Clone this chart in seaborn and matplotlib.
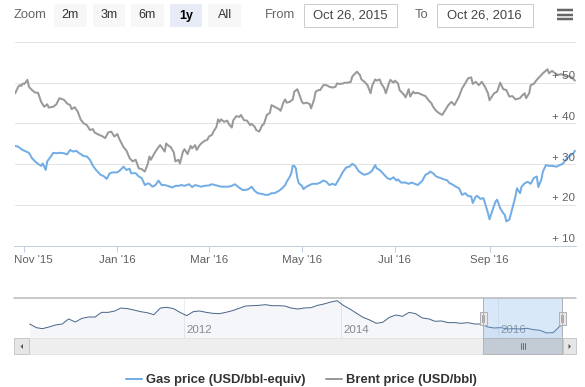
import matplotlib

matplotlib.use("Agg")

import matplotlib.dates as mdates
import matplotlib.pyplot as plt
import matplotlib.transforms as mtransforms
import seaborn as sns
from matplotlib.lines import Line2D
from matplotlib.patches import Polygon, Rectangle

import numpy as np
import pandas as pd

# ---------------------------------------------------------------- data
START = pd.Timestamp("2015-10-26")

# days since START
gas_days = [
    0, 2, 4, 6, 9, 11, 13, 15, 17, 18, 20, 21, 23, 25, 27, 29, 32, 34, 36, 38,
    40, 42, 45, 47, 49, 51, 53, 56, 58, 60, 62, 64, 67, 69, 71, 73, 75, 76, 79, 81,
    83, 85, 87, 88, 90, 92, 94, 96, 98, 100, 103, 105, 107, 109, 111, 114, 116, 118, 120, 122,
    124, 127, 129, 131, 133, 135, 138, 140, 142, 144, 146, 149, 151, 153, 155, 157, 159, 162, 164, 166,
    168, 170, 173, 175, 177, 178, 180, 181, 182, 183, 184, 185, 186, 188, 189, 191, 193, 195, 198, 200,
    202, 204, 206, 208, 210, 213, 215, 217, 219, 221, 223, 225, 227, 229, 232, 234, 236, 237, 239, 241,
    244, 246, 248, 250, 251, 253, 256, 258, 260, 262, 264, 267, 269, 271, 272, 274, 276, 279, 281, 283,
    285, 286, 288, 291, 293, 295, 297, 299, 300, 302, 303, 305, 307, 308, 310, 311, 313, 315, 316, 318,
    320, 321, 322, 324, 326, 327, 328, 329, 331, 332, 334, 336, 338, 340, 342, 343, 345, 346, 348, 350,
    352, 355, 357, 359, 361, 363, 366, 367,
]
gas_price = [
    34.5, 34.3, 33.7, 33.3, 32.8, 31.5, 30.7, 30.1, 29.6, 30.2, 28.6, 30.7, 31.7, 32.8, 32.7, 32.8, 32.7, 32.4, 33.5, 33.1,
    33.3, 32.7, 32.0, 31.9, 31.1, 29.6, 28.6, 27.4, 27.1, 26.4, 27.8, 28.0, 28.0, 28.6, 29.4, 28.6, 28.9, 27.8, 27.8, 27.0,
    26.6, 24.9, 25.3, 25.2, 24.5, 24.9, 26.0, 24.9, 24.9, 24.7, 24.3, 24.7, 24.7, 24.9, 24.7, 25.1, 24.4, 24.9, 24.7, 24.5,
    24.7, 24.8, 25.1, 24.9, 24.7, 24.5, 24.5, 24.5, 24.7, 25.1, 24.5, 23.7, 23.7, 23.9, 24.5, 23.5, 22.9, 22.7, 22.5, 22.5,
    22.9, 22.9, 23.5, 24.1, 24.9, 25.7, 26.9, 27.8, 29.6, 29.6, 29.0, 26.6, 25.3, 24.7, 23.9, 24.5, 24.9, 25.2, 25.2, 25.5,
    26.0, 25.7, 24.9, 25.2, 24.9, 26.8, 28.2, 29.2, 29.4, 30.1, 29.6, 28.4, 27.8, 27.4, 27.8, 28.4, 29.8, 29.0, 28.6, 27.8,
    26.6, 26.3, 26.8, 26.0, 26.3, 25.5, 25.5, 25.2, 25.5, 25.2, 24.9, 26.0, 27.4, 27.8, 28.2, 27.8, 27.0, 26.6, 26.3, 26.1,
    25.3, 25.2, 24.7, 24.1, 22.5, 22.9, 22.2, 22.1, 20.5, 22.1, 22.2, 21.5, 21.7, 20.5, 18.0, 16.5, 18.8, 20.9, 21.3, 19.2,
    18.0, 17.6, 16.0, 16.4, 19.2, 20.5, 22.1, 24.1, 22.9, 24.5, 25.3, 25.7, 25.2, 26.6, 27.0, 24.4, 26.3, 28.2, 29.8, 29.6,
    29.6, 29.4, 29.8, 30.1, 31.1, 31.9, 32.7, 33.3,
]

brent_days = [
    0, 1, 2, 3, 4, 5, 6, 8, 9, 11, 13, 15, 17, 19, 21, 22, 25, 27, 29, 32,
    34, 36, 37, 39, 41, 43, 45, 47, 49, 51, 52, 55, 57, 59, 61, 63, 65, 67, 68, 71,
    73, 75, 77, 79, 81, 83, 85, 87, 88, 89, 91, 93, 95, 96, 98, 99, 100, 102, 104, 105,
    107, 108, 110, 111, 113, 115, 116, 118, 119, 121, 122, 124, 126, 127, 129, 130, 132, 133, 134, 135,
    137, 139, 140, 142, 143, 145, 147, 148, 150, 152, 154, 155, 157, 158, 160, 162, 163, 165, 167, 168,
    170, 173, 174, 176, 177, 178, 180, 182, 183, 185, 186, 188, 189, 191, 193, 194, 196, 197, 199, 200,
    202, 204, 206, 208, 210, 211, 213, 215, 216, 218, 220, 221, 224, 226, 227, 229, 231, 233, 234, 236,
    237, 239, 240, 242, 243, 245, 246, 248, 249, 251, 252, 253, 255, 256, 258, 259, 261, 262, 264, 267,
    269, 271, 273, 274, 276, 278, 280, 282, 284, 286, 288, 291, 293, 295, 297, 299, 300, 302, 304, 306,
    308, 310, 311, 314, 316, 318, 320, 322, 324, 326, 328, 331, 332, 334, 335, 337, 338, 340, 342, 343,
    345, 346, 349, 350, 352, 354, 356, 358, 361, 363, 365, 367,
]
brent_price = [
    47.4, 48.2, 49.0, 49.4, 49.2, 49.8, 49.7, 50.7, 49.0, 48.2, 47.6, 47.5, 45.3, 44.1, 44.7, 43.9, 44.1, 44.7, 46.2, 45.8,
    44.9, 44.5, 43.5, 44.0, 42.9, 40.9, 40.0, 39.6, 38.4, 38.6, 37.8, 37.2, 36.9, 36.4, 37.8, 38.0, 36.8, 37.4, 36.4, 34.2,
    33.3, 31.5, 30.7, 31.1, 29.0, 28.8, 28.2, 30.2, 31.9, 31.1, 32.5, 33.7, 34.7, 34.2, 33.1, 35.1, 34.7, 34.2, 32.9, 30.7,
    31.1, 30.2, 33.1, 33.7, 32.5, 34.5, 33.9, 34.7, 33.5, 34.7, 35.1, 35.7, 36.0, 36.8, 37.2, 38.0, 39.2, 41.0, 40.4, 41.0,
    40.4, 40.7, 39.9, 39.0, 40.8, 41.8, 41.6, 42.1, 40.8, 40.7, 39.6, 39.9, 39.2, 38.4, 38.0, 39.6, 39.8, 42.1, 42.6, 44.5,
    44.1, 43.5, 43.1, 45.3, 45.9, 45.1, 45.3, 45.9, 47.8, 48.4, 47.4, 45.3, 44.9, 45.1, 44.8, 43.7, 45.9, 47.8, 48.2, 48.2,
    49.4, 49.4, 49.0, 48.8, 49.0, 49.8, 49.7, 49.8, 50.0, 50.0, 50.2, 51.5, 52.7, 51.9, 50.8, 50.2, 49.4, 47.4, 49.2, 50.8,
    50.5, 50.8, 49.8, 48.6, 47.4, 49.8, 50.7, 50.0, 50.5, 49.8, 48.2, 47.8, 47.0, 46.4, 48.4, 46.6, 47.8, 47.4, 47.5, 47.0,
    46.7, 45.7, 44.9, 44.1, 43.1, 42.5, 42.1, 43.3, 44.5, 45.3, 44.5, 46.6, 48.6, 49.8, 51.1, 51.3, 49.7, 50.2, 49.4, 50.2,
    49.0, 47.4, 45.7, 47.4, 47.8, 50.0, 48.4, 48.2, 46.6, 46.7, 45.9, 46.2, 46.7, 47.4, 46.2, 47.4, 49.4, 49.7, 50.7, 51.1,
    51.9, 52.3, 53.3, 52.3, 52.9, 52.3, 51.9, 52.1, 51.5, 51.6, 51.3, 50.5,
]

# navigator: mid-month gas price Jan 2010 .. Oct 2016, then the last day
nav_months = pd.date_range("2010-01-01", "2016-10-01", freq="MS")
nav_price = [
    33.4, 27.6, 26.0, 28.7, 31.9, 33.4, 41.4, 36.6, 42.4, 44.5, 44.5, 51.9,
    51.9, 54.1, 58.8, 57.8, 55.6, 53.0, 51.4, 48.2, 58.8, 59.9, 57.8, 51.9,
    46.7, 53.0, 54.1, 51.9, 50.4, 49.8, 51.9, 54.6, 58.3, 62.0, 62.5, 63.0,
    64.1, 62.5, 62.5, 62.0, 58.8, 57.2, 58.8, 59.3, 63.0, 65.2, 68.3, 70.4,
    62.5, 56.7, 50.4, 44.0, 39.8, 34.5, 36.1, 44.0, 47.7, 45.6, 51.9, 49.8,
    43.0, 41.4, 37.7, 38.2, 35.6, 35.6, 34.5, 35.6, 33.4, 33.4, 28.7, 27.1,
    27.6, 25.5, 26.0, 25.5, 26.6, 24.5, 23.4, 19.2, 19.7, 29.7,
    31.5,
]

y_ticks = [10, 20, 30, 40, 50, 60]
y_labels = [10, 20, 30, 40, 50]
range_buttons = ["2m", "3m", "6m", "1y", "All"]
range_selected = "1y"
range_from = "Oct 26, 2015"
range_to = "Oct 26, 2016"
series_names = ["Gas price (USD/bbl-equiv)", "Brent price (USD/bbl)"]

GAS = "#72ade5"
BRENT = "#999999"
NAV = "#4a6789"

W, H = 585, 387
PX = 72 / 100  # points per pixel at dpi 100


def fx(px):
    return px / W


def fy(py):
    return 1 - py / H


def box(x0, y0, x1, y1, **kw):
    fig.patches.append(
        Rectangle((fx(x0), fy(y1)), fx(x1) - fx(x0), fy(y0) - fy(y1), transform=fig.transFigure, **kw)
    )


def hline(x0, x1, y, **kw):
    fig.lines.append(Line2D([fx(x0), fx(x1)], [fy(y), fy(y)], transform=fig.transFigure, **kw))


def vline(x, y0, y1, **kw):
    fig.lines.append(Line2D([fx(x), fx(x)], [fy(y0), fy(y1)], transform=fig.transFigure, **kw))


sns.set_style("white")
plt.rcParams["font.family"] = ["Liberation Sans", "DejaVu Sans"]

fig = plt.figure(figsize=(W / 100, H / 100), dpi=100)

gas = pd.DataFrame({"date": START + pd.to_timedelta(gas_days, unit="D"), "price": gas_price})
brent = pd.DataFrame({"date": START + pd.to_timedelta(brent_days, unit="D"), "price": brent_price})
nav_dates = list(nav_months + pd.Timedelta(days=14)) + [START + pd.Timedelta(days=gas_days[-1])]
nav = pd.DataFrame({"date": nav_dates, "price": nav_price})

# ---------------------------------------------------------------- main chart
ax = fig.add_axes([fx(14.5), fy(245.8), fx(576) - fx(14.5), fy(41.9) - fy(245.8)])
sns.lineplot(data=gas, x="date", y="price", ax=ax, color=GAS, lw=2 * PX, label=series_names[0],
             estimator=None, errorbar=None)
sns.lineplot(data=brent, x="date", y="price", ax=ax, color=BRENT, lw=2 * PX, label=series_names[1],
             estimator=None, errorbar=None)
if ax.get_legend() is not None:
    ax.get_legend().remove()

ax.set_xlim(START - pd.Timedelta(hours=11), START + pd.Timedelta(days=367.7))
ax.set_ylim(10, 60)
ax.set(xlabel="", ylabel="")
ax.set_yticks(y_ticks)
ax.yaxis.grid(True, color="#e3e3e3", lw=1 * PX)
ax.tick_params(axis="y", length=0, labelleft=False)
for side in ["top", "left", "right"]:
    ax.spines[side].set_visible(False)
ax.spines["bottom"].set_color("#c0d0e0")
ax.spines["bottom"].set_linewidth(1 * PX)

ax.xaxis.set_major_locator(mdates.MonthLocator(bymonth=[1, 3, 5, 7, 9, 11]))
ax.xaxis.set_major_formatter(mdates.DateFormatter("%b '%y"))
ax.tick_params(axis="x", bottom=True, direction="out", length=6 * PX, width=1 * PX, color="#c0d0e0",
               labelcolor="#606060", labelsize=11.5 * PX, pad=3.2 * PX)

ylab_tr = mtransforms.blended_transform_factory(ax.transAxes, ax.transData) + \
    mtransforms.ScaledTranslation(-1 / 100, 6.6 / 100, fig.dpi_scale_trans)
for v in y_labels:
    ax.text(1.0, v, f"+ {v}", transform=ylab_tr, ha="right", va="center", color="#606060",
            fontsize=11.5 * PX, zorder=5)

# ---------------------------------------------------------------- navigator
ax_nav = fig.add_axes([fx(29.3), fy(338.3), fx(563.3) - fx(29.3), fy(298) - fy(338.3)])
ax_nav.set_axisbelow(True)
nav_lo, nav_hi = 10.7, 74.7
ax_nav.fill_between(nav["date"], nav["price"], nav_lo, color="#4572a7", alpha=0.06, lw=0)
sns.lineplot(data=nav, x="date", y="price", ax=ax_nav, color=NAV, lw=1 * PX, estimator=None, errorbar=None)
ax_nav.set_xlim(pd.Timestamp("2010-01-13"), pd.Timestamp("2016-11-01"))
ax_nav.set_ylim(nav_lo, nav_hi)
ax_nav.set(xlabel="", ylabel="")
ax_nav.set_yticks([])
for side in ax_nav.spines:
    ax_nav.spines[side].set_visible(False)
ax_nav.xaxis.set_major_locator(mdates.YearLocator(2))
ax_nav.xaxis.set_major_formatter(mdates.DateFormatter("%Y"))
ax_nav.xaxis.grid(True, color="#ececec", lw=1 * PX)
ax_nav.tick_params(axis="x", length=0, labelcolor="#8c8c8c", labelsize=11.5 * PX, pad=-13 * PX)

sel0, sel1 = START, START + pd.Timedelta(days=gas_days[-1])
ax_nav.axvspan(sel0, sel1, color=(128 / 255, 179 / 255, 236 / 255, 0.3), lw=0, zorder=3)

fig.canvas.draw()

# left-justify the first month label like the original and shift year labels right of their grid line
first = min((t for t in ax.xaxis.get_major_ticks() if ax.get_xlim()[0] <= t.get_loc() <= ax.get_xlim()[1]),
            key=lambda t: t.get_loc())
bb = first.label1.get_window_extent()
ax_x0 = ax.get_window_extent().x0
if bb.x0 < ax_x0:
    first.label1.set_transform(first.label1.get_transform() + mtransforms.Affine2D().translate(ax_x0 - bb.x0, 0))
for t in ax_nav.xaxis.get_major_ticks():
    t.label1.set_horizontalalignment("left")
    t.label1.set_transform(t.label1.get_transform() + mtransforms.ScaledTranslation(3 / 100, 0, fig.dpi_scale_trans))

# selected window edges in pixels
to_px = fig.transFigure.inverted()
e0 = to_px.transform(ax_nav.transData.transform((mdates.date2num(sel0), 0)))[0] * W
e1 = to_px.transform(ax_nav.transData.transform((mdates.date2num(sel1), 0)))[0] * W

hline(14, 576, 298, color="#b8b8bc", lw=1.5 * PX)
vline(e0, 298, 338.3, color="#b2b1b6", lw=1 * PX)
vline(e1, 298, 338.3, color="#b2b1b6", lw=1 * PX)

# scrollbar
box(13.5, 338.3, 576, 354.3, facecolor="#eeeeee", edgecolor="#e4e4e4", lw=1 * PX)
box(e0, 338.3, e1, 354.3, facecolor="#c3cbd5", edgecolor="#b2b5ba", lw=1 * PX)
for dx in (-2, 0, 2):
    vline((e0 + e1) / 2 + dx, 343, 349, color="#555555", lw=0.8 * PX)
box(13.5, 338.3, 29.3, 354.3, facecolor="#e6e6e6", edgecolor="#c8c8c8", lw=1 * PX)
box(563.3, 338.3, 576, 354.3, facecolor="#e6e6e6", edgecolor="#c8c8c8", lw=1 * PX)
fig.patches.append(Polygon([(fx(23), fy(344)), (fx(23), fy(349)), (fx(20.5), fy(346.5))], closed=True,
                           transform=fig.transFigure, facecolor="#555555", lw=0))
fig.patches.append(Polygon([(fx(568.5), fy(344)), (fx(568.5), fy(349)), (fx(571), fy(346.5))], closed=True,
                           transform=fig.transFigure, facecolor="#555555", lw=0))

# navigator handles
for e in (e0, e1):
    box(e - 3.5, 311.5, e + 3.5, 325, facecolor="#ebe7e8", edgecolor="#b2b1b6", lw=1 * PX)
    vline(e - 1, 315, 321.5, color="#999999", lw=0.8 * PX)
    vline(e + 1, 315, 321.5, color="#999999", lw=0.8 * PX)

# ---------------------------------------------------------------- range selector
fig.text(fx(14), fy(15.5), "Zoom", ha="left", va="center", color="#666666", fontsize=13 * PX)
for i, name in enumerate(range_buttons):
    x0 = 54 + i * 38.6
    sel = name == range_selected
    box(x0, 4, x0 + 32.5, 26.7, facecolor="#e6ebf5" if sel else "#f7f7f7", edgecolor="none")
    fig.text(fx(x0 + 16.25), fy(15.5), name, ha="center", va="center", fontsize=12.5 * PX,
             color="#000000" if sel else "#333333", fontweight="bold" if sel else "normal")

fig.text(fx(265), fy(15.5), "From", ha="left", va="center", color="#666666", fontsize=13 * PX)
box(304, 4, 397.3, 26.7, facecolor="white", edgecolor="#cccccc", lw=1 * PX)
fig.text(fx(350.7), fy(15.5), range_from, ha="center", va="center", color="#444444", fontsize=13 * PX)
fig.text(fx(415), fy(15.5), "To", ha="left", va="center", color="#666666", fontsize=13 * PX)
box(436.7, 4, 532.7, 26.7, facecolor="white", edgecolor="#cccccc", lw=1 * PX)
fig.text(fx(484.7), fy(15.5), range_to, ha="center", va="center", color="#444444", fontsize=13 * PX)

for y in (10, 14.5, 19):
    hline(557, 573, y, color="#666666", lw=2.5 * PX, solid_capstyle="butt")

# ---------------------------------------------------------------- legend
handles, labels = ax.get_legend_handles_labels()
fig.legend(handles, labels, loc="center", bbox_to_anchor=(fx(301.5), fy(380)), ncol=2, frameon=False,
           prop={"weight": "bold", "size": 13 * PX}, labelcolor="#333333",
           handlelength=1.25, handletextpad=0.28, columnspacing=1.6, borderpad=0, borderaxespad=0)

fig.savefig("out.png", dpi=100)
